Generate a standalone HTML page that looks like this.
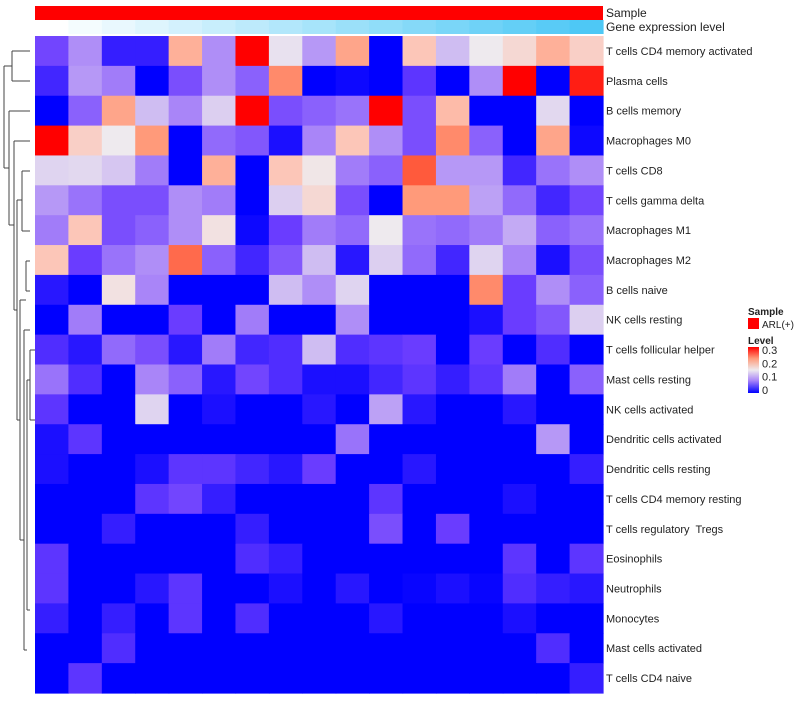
<!DOCTYPE html>
<html><head><meta charset="utf-8"><style>
body{margin:0;background:#fff;}
svg text{font-family:"Liberation Sans",sans-serif;fill:#222;}
</style></head><body>
<svg id="chart" width="800" height="700" xmlns="http://www.w3.org/2000/svg">
<defs><linearGradient id="lg" x1="0" y1="1" x2="0" y2="0">
<stop offset="0" stop-color="#0000ff"/><stop offset="0.27" stop-color="#a985f8"/><stop offset="0.5" stop-color="#eeeaee"/><stop offset="0.75" stop-color="#ff9a7a"/><stop offset="1" stop-color="#ff0000"/></linearGradient></defs>
<g id="dendro" stroke="#444" stroke-width="1" fill="none">
<path d="M12,51H30M12,81H30M12,51V81M4,66H12"/>
<path d="M4,66V168M4,168H9M9,111H30M9,111V225M9,225H14"/>
<path d="M14,141H30M14,141V310M14,310H17M17,200V420M17,200H22M22,171H30M22,231H30M22,171V231M17,420H20"/>
<path d="M20,300V540M20,300H26M26,261V291M26,261H30M26,291H30M20,540H24M24,330V650M24,330H30M24,650H27"/>
<path d="M27,380V610M27,380H30M27,610H30M30,350V420M30,350H35M30,420H35"/>
</g>
<g id="cells"></g>
<g id="ann"></g>
<g id="labels" font-size="11"></g>
<text x="606" y="17" font-size="12">Sample</text>
<text x="606" y="31" font-size="12">Gene expression level</text>
<g font-size="10">
<text x="748" y="315" font-weight="bold">Sample</text>
<rect x="748" y="318" width="11" height="11" fill="#ff0000"/>
<text x="762" y="328">ARL(+)</text>
<text x="748" y="344" font-weight="bold">Level</text>
<rect x="748" y="347" width="11" height="46" fill="url(#lg)"/>
<g id="lticks"></g>
</g>
</svg>
<script>
const rowNames=["T cells CD4 memory activated","Plasma cells","B cells memory","Macrophages M0","T cells CD8","T cells gamma delta","Macrophages M1","Macrophages M2","B cells naive","NK cells resting","T cells follicular helper","Mast cells resting","NK cells activated","Dendritic cells activated","Dendritic cells resting","T cells CD4 memory resting","T cells regulatory  Tregs","Eosinophils","Neutrophils","Monocytes","Mast cells activated","T cells CD4 naive"];
const r01=[.045,.085,.02,.02,.21,.085,.3,.14,.09,.22,0,.19,.11,.15,.17,.21,.18];
const r02=[.025,.09,.075,0,.05,.085,.06,.24,0,.005,0,.035,0,.085,.3,0,.29];
const r03=[0,.06,.22,.11,.08,.12,.3,.05,.06,.07,.3,.05,.2,0,0,.13,0];
const r04=[.3,.18,.15,.23,0,.065,.055,.01,.08,.19,.085,.05,.24,.06,0,.22,.005];
const r05=[.125,.13,.115,.075,0,.21,0,.19,.155,.075,.06,.27,.09,.09,.025,.07,.085];
const r06=[.09,.07,.05,.05,.085,.075,0,.12,.17,.05,0,.23,.23,.095,.065,.025,.045];
const r07=[.075,.19,.05,.06,.085,.16,.005,.04,.075,.065,.15,.07,.065,.075,.1,.06,.07];
const r08=[.19,.04,.07,.085,.26,.06,.025,.055,.11,.015,.12,.065,.025,.125,.08,.01,.05];
const r09=[.015,0,.16,.08,0,0,0,.11,.085,.125,0,0,0,.24,.04,.085,.06];
const r10=[0,.075,0,0,.04,0,.075,0,0,.085,0,0,0,.01,.04,.055,.12];
const r11=[.03,.015,.065,.05,.015,.075,.025,.03,.11,.03,.035,.04,0,.04,0,.03,0];
const r12=[.07,.03,0,.08,.06,.015,.045,.03,.01,.01,.025,.035,.02,.035,.075,0,.06];
const r13=[.035,0,0,.125,0,.01,0,0,.015,0,.095,.015,0,0,.015,0,0];
const r14=[.01,.035,0,0,0,0,0,0,0,.07,0,0,0,0,0,.09,0];
const r15=[.01,0,0,.01,.035,.035,.025,.015,.04,0,0,.015,0,0,0,0,.02];
const r16=[0,0,0,.035,.045,.02,0,0,0,0,.035,0,0,0,.01,0,0];
const r17=[0,0,.02,0,0,0,.02,0,0,0,.05,0,.04,0,0,0,0];
const r18=[.035,0,0,0,0,0,.03,.02,0,0,0,0,0,0,.035,0,.035];
const r19=[.035,0,0,.015,.035,0,0,.01,0,.015,0,.003,.01,.003,.03,.02,.015];
const r20=[.02,0,.02,0,.035,0,.03,0,0,0,.015,0,0,0,.01,0,0];
const r21=[0,0,.03,0,0,0,0,0,0,0,0,0,0,0,0,.03,0];
const r22=[0,.035,0,0,0,0,0,0,0,0,0,0,0,0,0,0,.02];
const values=[r01,r02,r03,r04,r05,r06,r07,r08,r09,r10,r11,r12,r13,r14,r15,r16,r17,r18,r19,r20,r21,r22];
const geneLevel=[0,1,2,3,4,5,6,7,8,9,10,11,12,13,14,15,16];
const levelTicks=[0,0.1,0.2,0.3];

const X0=35,X1=603,Y0=36,Y1=693;
const nC=17,nR=rowNames.length;
const cw=(X1-X0)/nC,rh=(Y1-Y0)/nR;
const xPos=i=>X0+i*cw, yPos=j=>Y0+j*rh;
const stops=[[0,[0,0,255]],[.04,[106,60,255]],[.08,[169,133,248]],[.12,[220,207,240]],[.15,[238,234,238]],[.19,[252,198,184]],[.23,[255,154,122]],[.27,[255,90,60]],[.3,[255,0,0]]];
function col(v){v=Math.max(0,Math.min(.3,v));for(let k=1;k<stops.length;k++){if(v<=stops[k][0]){const [a,ca]=stops[k-1],[b,cb]=stops[k];const t=(v-a)/(b-a);return 'rgb('+ca.map((c,i)=>Math.round(c+(cb[i]-c)*t)).join(',')+')';}}return 'rgb(255,0,0)';}
const NS="http://www.w3.org/2000/svg";
const cells=document.getElementById('cells');
values.forEach((row,j)=>row.forEach((v,i)=>{
 const r=document.createElementNS(NS,'rect');
 r.setAttribute('x',xPos(i));r.setAttribute('y',yPos(j));
 r.setAttribute('width',cw+0.6);r.setAttribute('height',rh+0.6);
 r.setAttribute('fill',col(v));
 
 
 cells.appendChild(r);
}));
const ann=document.getElementById('ann');
const sb=document.createElementNS(NS,'rect');
sb.setAttribute('x',X0);sb.setAttribute('y',6);sb.setAttribute('width',X1-X0);sb.setAttribute('height',14);sb.setAttribute('fill','#ff0000');


ann.appendChild(sb);
const gmax=Math.max(...geneLevel);
geneLevel.forEach((g,i)=>{
 const t=g/gmax;
 const r=document.createElementNS(NS,'rect');
 r.setAttribute('x',xPos(i));r.setAttribute('y',20);r.setAttribute('width',cw+0.6);r.setAttribute('height',14);
 r.setAttribute('fill','rgb('+Math.round(255-(255-78)*t)+','+Math.round(255-(255-200)*t)+','+Math.round(255-(255-245)*t)+')');
 
 
 ann.appendChild(r);
});
const lab=document.getElementById('labels');
rowNames.forEach((n,j)=>{
 const t=document.createElementNS(NS,'text');
 t.setAttribute('x',606);t.setAttribute('y',yPos(j)+rh/2+4);t.textContent=n;
 t.setAttribute('style','white-space:pre');
 
 
 lab.appendChild(t);
});
const lt=document.getElementById('lticks');
levelTicks.forEach(v=>{
 const y=390-(v/0.3)*40;
 const t=document.createElementNS(NS,'text');
 t.setAttribute('x',762);t.setAttribute('y',y+4);t.setAttribute('font-size','11');t.textContent=String(v);
 
 
 lt.appendChild(t);
});
</script>
</body></html>
